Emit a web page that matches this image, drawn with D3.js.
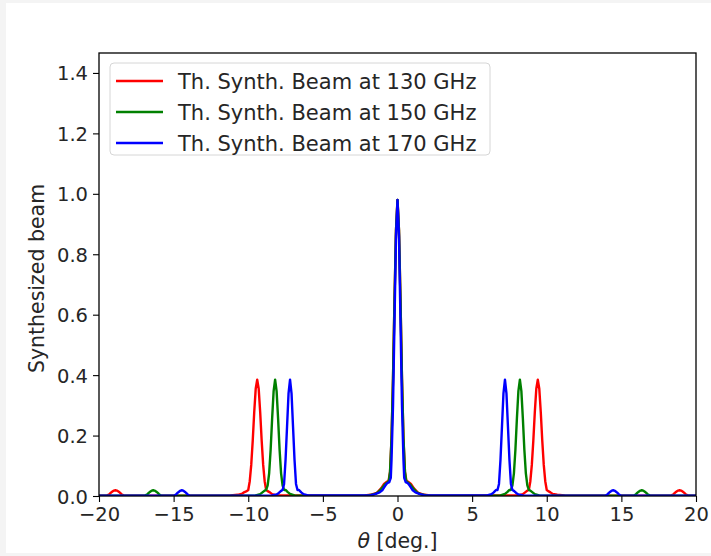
<!DOCTYPE html>
<html>
<head>
<meta charset="utf-8">
<script src="https://cdn.jsdelivr.net/npm/d3@7"></script>
<style>
  html, body { margin: 0; padding: 0; background: #f4f4f4; }
  svg { display: block; }
  text { font-family: "DejaVu Sans", sans-serif; fill: #262626; }
</style>
</head>
<body>
<svg id="chart" width="711" height="556"></svg>
<script>
// Synthesized beam profiles, [theta (deg), beam] pairs, per frequency.
const beam130 = [
  [-20,0.001],[-19.7,0.001],[-19.45,0.002],[-19.3,0.006],[-19.2,0.011],[-19.1,0.015],[-19.0,0.018],[-18.9,0.019],
  [-18.8,0.018],[-18.7,0.015],[-18.6,0.011],[-18.5,0.006],[-18.35,0.002],[-17.5,0.001],[-13,0.001],
  [-11.2,0.002],[-10.7,0.004],[-10.4,0.008],[-10.25,0.013],[-10.1,0.016],[-10.0,0.02],[-9.9,0.049],[-9.8,0.103],
  [-9.7,0.183],[-9.6,0.277],[-9.5,0.355],[-9.4,0.385],[-9.3,0.355],[-9.2,0.277],[-9.1,0.183],[-9.0,0.103],
  [-8.9,0.049],[-8.8,0.02],[-8.7,0.016],[-8.55,0.012],[-8.4,0.006],[-8.1,0.002],[-6,0.002],[-4,0.001],
  [-2.2,0.002],[-1.8,0.004],[-1.4,0.01],[-1.1,0.025],[-0.9,0.04],[-0.75,0.046],[-0.6,0.05],[-0.5,0.08],
  [-0.4,0.19],[-0.3,0.39],[-0.2,0.65],[-0.1,0.88],[0,0.98],[0.1,0.88],[0.2,0.65],[0.3,0.39],[0.4,0.19],
  [0.5,0.08],[0.6,0.05],[0.75,0.046],[0.9,0.04],[1.1,0.025],[1.4,0.01],[1.8,0.004],[2.2,0.002],
  [4,0.001],[6,0.002],[8.1,0.002],[8.4,0.006],[8.55,0.012],[8.7,0.018],[8.8,0.02],[8.9,0.049],[9.0,0.103],
  [9.1,0.183],[9.2,0.277],[9.3,0.355],[9.4,0.385],[9.5,0.355],[9.6,0.277],[9.7,0.183],[9.8,0.103],
  [9.9,0.049],[10.0,0.02],[10.1,0.016],[10.25,0.012],[10.4,0.007],[10.7,0.004],[11.2,0.002],[13,0.001],
  [17.5,0.001],[18.35,0.002],[18.5,0.006],[18.6,0.011],[18.7,0.015],[18.8,0.018],[18.9,0.019],[19.0,0.018],
  [19.1,0.015],[19.2,0.011],[19.3,0.006],[19.45,0.002],[19.7,0.001],[20,0.001]
];
const beam150 = [
  [-20,0.001],[-17.2,0.001],[-16.9,0.002],[-16.75,0.006],[-16.65,0.011],[-16.55,0.015],[-16.45,0.018],[-16.37,0.019],
  [-16.28,0.018],[-16.18,0.015],[-16.08,0.011],[-15.98,0.006],[-15.85,0.002],[-15.2,0.001],[-11,0.001],
  [-9.5,0.002],[-9.2,0.006],[-9.05,0.012],[-8.9,0.018],[-8.8,0.02],[-8.7,0.035],[-8.6,0.075],[-8.5,0.153],
  [-8.4,0.256],[-8.3,0.347],[-8.2,0.385],[-8.1,0.347],[-8.0,0.256],[-7.9,0.153],[-7.8,0.075],[-7.7,0.035],
  [-7.6,0.02],[-7.5,0.02],[-7.35,0.013],[-7.2,0.007],[-6.9,0.002],[-5,0.001],
  [-2.0,0.002],[-1.6,0.005],[-1.3,0.012],[-1.05,0.025],[-0.85,0.038],[-0.7,0.044],[-0.58,0.05],[-0.5,0.08],
  [-0.4,0.19],[-0.3,0.39],[-0.2,0.65],[-0.1,0.88],[0,0.98],[0.1,0.88],[0.2,0.65],[0.3,0.39],[0.4,0.19],
  [0.5,0.08],[0.58,0.05],[0.7,0.044],[0.85,0.038],[1.05,0.025],[1.3,0.012],[1.6,0.005],[2.0,0.002],
  [5,0.001],[6.9,0.002],[7.2,0.007],[7.35,0.013],[7.5,0.02],[7.6,0.02],[7.7,0.035],[7.8,0.075],[7.9,0.153],
  [8.0,0.256],[8.1,0.347],[8.2,0.385],[8.3,0.347],[8.4,0.256],[8.5,0.153],[8.6,0.075],[8.7,0.035],
  [8.8,0.02],[8.9,0.018],[9.05,0.012],[9.2,0.006],[9.5,0.002],[11,0.001],
  [15.2,0.001],[15.85,0.002],[15.98,0.006],[16.08,0.011],[16.18,0.015],[16.28,0.018],[16.37,0.019],[16.45,0.018],
  [16.55,0.015],[16.65,0.011],[16.75,0.006],[16.9,0.002],[17.2,0.001],[20,0.001]
];
const beam170 = [
  [-20,0.001],[-15.2,0.001],[-14.95,0.002],[-14.82,0.006],[-14.72,0.011],[-14.62,0.015],[-14.53,0.018],[-14.45,0.019],
  [-14.37,0.018],[-14.28,0.015],[-14.18,0.011],[-14.08,0.006],[-13.95,0.002],[-13.3,0.001],[-9,0.001],
  [-8.4,0.002],[-8.1,0.005],[-7.95,0.01],[-7.8,0.017],[-7.7,0.02],[-7.6,0.04],[-7.5,0.12],[-7.4,0.23],
  [-7.3,0.34],[-7.2,0.385],[-7.1,0.34],[-7.0,0.23],[-6.9,0.12],[-6.8,0.04],[-6.7,0.02],[-6.6,0.02],
  [-6.45,0.012],[-6.3,0.006],[-6.0,0.002],[-3,0.002],
  [-1.8,0.003],[-1.5,0.006],[-1.2,0.012],[-1.0,0.02],[-0.85,0.032],[-0.7,0.042],[-0.55,0.046],[-0.45,0.06],
  [-0.4,0.12],[-0.3,0.3],[-0.2,0.58],[-0.1,0.86],[0,0.98],[0.1,0.86],[0.2,0.58],[0.3,0.3],[0.4,0.12],
  [0.45,0.06],[0.55,0.046],[0.7,0.042],[0.85,0.032],[1.0,0.02],[1.2,0.012],[1.5,0.006],[1.8,0.003],
  [3,0.002],[6.0,0.002],[6.3,0.006],[6.45,0.012],[6.6,0.02],[6.7,0.02],[6.8,0.04],[6.9,0.12],[7.0,0.23],
  [7.1,0.34],[7.2,0.385],[7.3,0.34],[7.4,0.23],[7.5,0.12],[7.6,0.04],[7.7,0.02],[7.8,0.017],
  [7.95,0.01],[8.1,0.005],[8.4,0.002],[9,0.001],
  [13.3,0.001],[13.95,0.002],[14.08,0.006],[14.18,0.011],[14.28,0.015],[14.37,0.018],[14.45,0.019],[14.53,0.018],
  [14.62,0.015],[14.72,0.011],[14.82,0.006],[14.95,0.002],[15.2,0.001],[20,0.001]
];

const seriesNames = ["Th. Synth. Beam at 130 GHz", "Th. Synth. Beam at 150 GHz", "Th. Synth. Beam at 170 GHz"];
const seriesColors = ["#ff0000", "#008000", "#0000ff"];
const seriesData = [beam130, beam150, beam170];

const xTicks = [-20, -15, -10, -5, 0, 5, 10, 15, 20];
const yTicks = [0.0, 0.2, 0.4, 0.6, 0.8, 1.0, 1.2, 1.4];
const xDomain = [-20, 20];
const yDomain = [0, 1.466];

const svg = d3.select("#chart");
const W = 711, H = 556;
const plot = { left: 99, top: 53, right: 696, bottom: 496 };

// figure background
svg.append("rect").attr("x", 6).attr("y", 3).attr("width", W - 6).attr("height", 550).attr("fill", "#ffffff");

const x = d3.scaleLinear().domain(xDomain).range([plot.left, plot.right]);
const y = d3.scaleLinear().domain(yDomain).range([plot.bottom, plot.top]);

const tickFont = 19.5;
const labelFont = 20.5;
const legendFont = 21;

// clip to axes area
svg.append("defs").append("clipPath").attr("id", "clip")
  .append("rect").attr("x", plot.left).attr("y", plot.top)
  .attr("width", plot.right - plot.left).attr("height", plot.bottom - plot.top);

const line = d3.line().x(d => x(d[0])).y(d => y(d[1]));

const g = svg.append("g").attr("clip-path", "url(#clip)");
seriesData.forEach((data, i) => {
  g.append("path").datum(data)
    .attr("d", line)
    .attr("fill", "none")
    .attr("stroke", seriesColors[i])
    .attr("stroke-width", 2.4)
    .attr("stroke-linejoin", "round");
});

// axes
const fmtX = d3.format("d");
const fmtY = d3.format(".1f");
const xAxis = d3.axisBottom(x).tickValues(xTicks).tickFormat(fmtX).tickSize(6).tickPadding(4);
const yAxis = d3.axisLeft(y).tickValues(yTicks).tickFormat(fmtY).tickSize(6).tickPadding(5);

const gx = svg.append("g").attr("transform", `translate(0,${plot.bottom})`).call(xAxis);
const gy = svg.append("g").attr("transform", `translate(${plot.left},0)`).call(yAxis);
[gx, gy].forEach(a => {
  a.select(".domain").remove();
  a.selectAll(".tick line").attr("stroke", "#000").attr("stroke-width", 1.1);
  a.selectAll(".tick text").attr("font-size", tickFont).attr("font-family", "DejaVu Sans").attr("fill", "#262626");
});
gy.selectAll(".tick text").attr("dy", "0.36em");
gx.selectAll(".tick text").attr("dy", "0.75em");

// frame
svg.append("rect")
  .attr("x", plot.left).attr("y", plot.top)
  .attr("width", plot.right - plot.left).attr("height", plot.bottom - plot.top)
  .attr("fill", "none").attr("stroke", "#000").attr("stroke-width", 1.3);

// axis labels
svg.append("text")
  .attr("transform", `translate(44,${(plot.top + plot.bottom) / 2 + 4}) rotate(-90)`)
  .attr("text-anchor", "middle")
  .attr("font-size", labelFont)
  .text("Synthesized beam");

const xl = svg.append("text")
  .attr("x", (plot.left + plot.right) / 2).attr("y", 548)
  .attr("text-anchor", "middle")
  .attr("font-size", labelFont);
xl.append("tspan").attr("font-style", "italic").text("θ");
xl.append("tspan").text(" [deg.]");

// legend
const leg = svg.append("g");
leg.append("rect")
  .attr("x", 110).attr("y", 63).attr("width", 380).attr("height", 92)
  .attr("rx", 4).attr("ry", 4)
  .attr("fill", "#ffffff").attr("fill-opacity", 0.8)
  .attr("stroke", "#d6d6d6").attr("stroke-width", 1);
seriesNames.forEach((name, i) => {
  const yy = 81 + i * 31;
  leg.append("line")
    .attr("x1", 116).attr("x2", 163).attr("y1", yy).attr("y2", yy)
    .attr("stroke", seriesColors[i]).attr("stroke-width", 2.5);
  leg.append("text")
    .attr("x", 178).attr("y", yy).attr("dy", "0.36em")
    .attr("font-size", legendFont)
    .text(name);
});
</script>
</body>
</html>
